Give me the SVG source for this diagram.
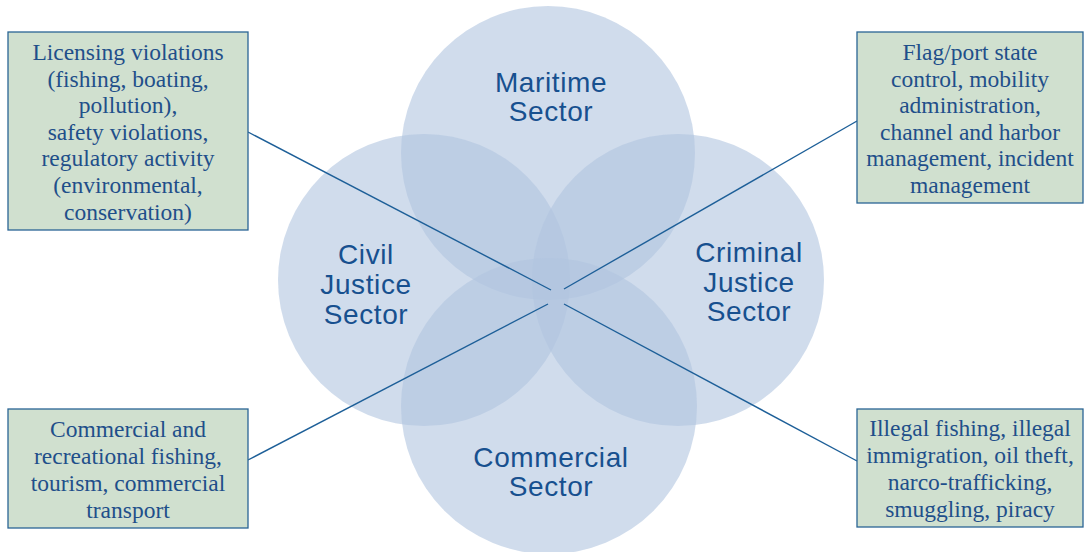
<svg xmlns="http://www.w3.org/2000/svg" width="1086" height="552" viewBox="0 0 1086 552">
  <style>
    .sector { fill: rgb(177,197,223); fill-opacity: 0.6; }
    .sector-label { font-family: "Liberation Sans", Arial, sans-serif; font-size: 28px; fill: #17508f; text-anchor: middle; letter-spacing: 0.6px; }
    .note-box { fill: #d0e0cf; stroke: #2a6595; stroke-width: 1.3; }
    .note-text { font-family: "Liberation Serif", "Times New Roman", serif; font-size: 23.5px; fill: #1f4f8a; text-anchor: middle; }
    .link { stroke: #1d5f98; stroke-width: 1.4; fill: none; }
  </style>

  <rect width="1086" height="552" fill="#ffffff"/>

  <!-- Four overlapping sector circles -->
  <g id="maritime-sector">
    <circle class="sector" cx="548" cy="153" r="147"/>
    <text class="sector-label" x="551" y="92">Maritime</text>
    <text class="sector-label" x="551" y="121">Sector</text>
  </g>
  <g id="civil-justice-sector">
    <circle class="sector" cx="424" cy="280" r="146"/>
    <text class="sector-label" x="366" y="264">Civil</text>
    <text class="sector-label" x="366" y="294">Justice</text>
    <text class="sector-label" x="366" y="324">Sector</text>
  </g>
  <g id="criminal-justice-sector">
    <circle class="sector" cx="678" cy="280" r="146"/>
    <text class="sector-label" x="749" y="262">Criminal</text>
    <text class="sector-label" x="749" y="292">Justice</text>
    <text class="sector-label" x="749" y="321">Sector</text>
  </g>
  <g id="commercial-sector">
    <circle class="sector" cx="549" cy="406" r="148"/>
    <text class="sector-label" x="551" y="467">Commercial</text>
    <text class="sector-label" x="551" y="496">Sector</text>
  </g>

  <!-- Connectors from the centre to each note -->
  <g id="connectors">
    <line class="link" x1="248" y1="132" x2="551" y2="290"/>
    <line class="link" x1="857" y1="121" x2="564" y2="289"/>
    <line class="link" x1="248" y1="460" x2="548" y2="304"/>
    <line class="link" x1="857" y1="461" x2="564" y2="304"/>
  </g>

  <!-- Notes -->
  <g id="note-civil">
    <rect class="note-box" x="8" y="32" width="240" height="198"/>
    <text class="note-text" x="128" y="60">Licensing violations</text>
    <text class="note-text" x="128" y="86.6">(fishing, boating,</text>
    <text class="note-text" x="128" y="113.2">pollution),</text>
    <text class="note-text" x="128" y="139.8">safety violations,</text>
    <text class="note-text" x="128" y="166.4">regulatory activity</text>
    <text class="note-text" x="128" y="193">(environmental,</text>
    <text class="note-text" x="128" y="219.6">conservation)</text>
  </g>
  <g id="note-maritime">
    <rect class="note-box" x="857" y="32" width="226" height="171"/>
    <text class="note-text" x="970" y="60">Flag/port state</text>
    <text class="note-text" x="970" y="86.6">control, mobility</text>
    <text class="note-text" x="970" y="113.2">administration,</text>
    <text class="note-text" x="970" y="139.8">channel and harbor</text>
    <text class="note-text" x="970" y="166.4">management, incident</text>
    <text class="note-text" x="970" y="193">management</text>
  </g>
  <g id="note-commercial">
    <rect class="note-box" x="8" y="409" width="240" height="119"/>
    <text class="note-text" x="128" y="437">Commercial and</text>
    <text class="note-text" x="128" y="464">recreational fishing,</text>
    <text class="note-text" x="128" y="491">tourism, commercial</text>
    <text class="note-text" x="128" y="518">transport</text>
  </g>
  <g id="note-criminal">
    <rect class="note-box" x="857" y="409" width="226" height="118"/>
    <text class="note-text" x="970" y="436">Illegal fishing, illegal</text>
    <text class="note-text" x="970" y="463">immigration, oil theft,</text>
    <text class="note-text" x="970" y="490">narco-trafficking,</text>
    <text class="note-text" x="970" y="517">smuggling, piracy</text>
  </g>
</svg>
